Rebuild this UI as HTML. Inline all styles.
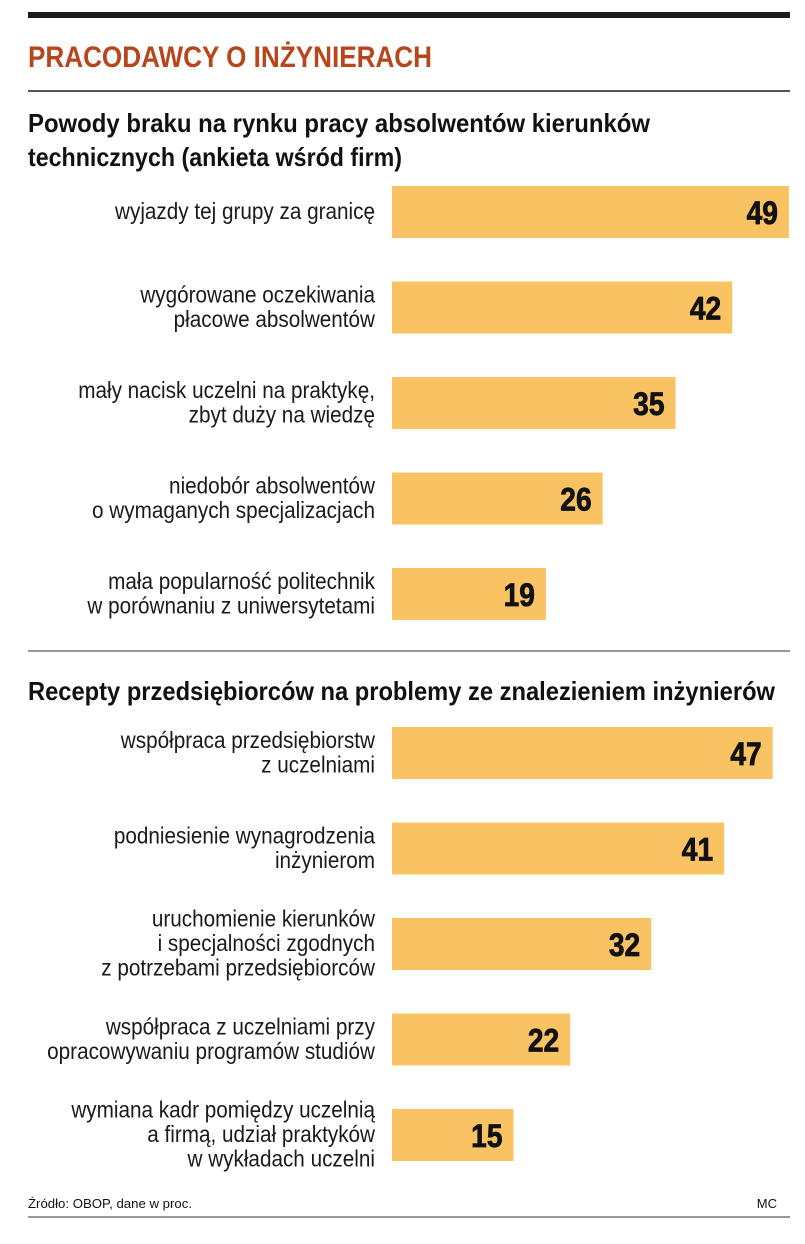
<!DOCTYPE html>
<html><head><meta charset="utf-8"><style>
html,body{margin:0;padding:0;background:#fff}
svg{display:block;font-family:"Liberation Sans",sans-serif}
</style></head><body>
<svg id="chart" width="805" height="1244">
<rect x="28" y="12" width="762" height="6" fill="#1a1a1a"/>
<text x="28" y="67" font-size="30" font-weight="bold" fill="#b8461c" textLength="404" lengthAdjust="spacingAndGlyphs">PRACODAWCY O INŻYNIERACH</text>
<rect x="28" y="90" width="762" height="2" fill="#555"/>
<text x="28" y="132" font-size="26" font-weight="bold" fill="#111" textLength="622" lengthAdjust="spacingAndGlyphs">Powody braku na rynku pracy absolwentów kierunków</text>
<text x="28" y="166" font-size="26" font-weight="bold" fill="#111" textLength="374" lengthAdjust="spacingAndGlyphs">technicznych (ankieta wśród firm)</text>
<rect x="28" y="650" width="762" height="2" fill="#999"/>
<text x="28" y="700" font-size="26" font-weight="bold" fill="#111" textLength="747" lengthAdjust="spacingAndGlyphs">Recepty przedsiębiorców na problemy ze znalezieniem inżynierów</text>
<g id="bars1"></g><g id="bars2"></g>
<text x="28" y="1208" font-size="13" fill="#111" textLength="164" lengthAdjust="spacingAndGlyphs">Źródło: OBOP, dane w proc.</text>
<text x="777" y="1208" font-size="13" fill="#111" text-anchor="end">MC</text>
<rect x="28" y="1216" width="762" height="2" fill="#999"/>
</svg>
<script>
const labels1 = [["wyjazdy tej grupy za granicę"],["wygórowane oczekiwania","płacowe absolwentów"],["mały nacisk uczelni na praktykę,","zbyt duży na wiedzę"],["niedobór absolwentów","o wymaganych specjalizacjach"],["mała popularność politechnik","w porównaniu z uniwersytetami"]];
const values1 = [49,42,35,26,19];
const labels2 = [["współpraca przedsiębiorstw","z uczelniami"],["podniesienie wynagrodzenia","inżynierom"],["uruchomienie kierunków","i specjalności zgodnych","z potrzebami przedsiębiorców"],["współpraca z uczelniami przy","opracowywaniu programów studiów"],["wymiana kadr pomiędzy uczelnią","a firmą, udział praktyków","w wykładach uczelni"]];
const values2 = [47,41,32,22,15];

const NS = "http://www.w3.org/2000/svg";
const x0 = 392, scale = 8.1, barH = 52, step = 95.5;
function xs(v){ return v * scale; }
function draw(gid, labels, values, top){
  const g = document.getElementById(gid);
  values.forEach((v,i)=>{
    const y = top + i*step;
    const r = document.createElementNS(NS,"rect");
    r.setAttribute("x",x0); r.setAttribute("y",y);
    r.setAttribute("width",xs(v)); r.setAttribute("height",barH);
    r.setAttribute("fill","#f9c262");
    
    
    g.appendChild(r);
    const t = document.createElementNS(NS,"text");
    t.setAttribute("transform",`translate(${x0+xs(v)-11},${y+barH/2+12}) scale(0.88,1)`);
    t.setAttribute("text-anchor","end");
    t.setAttribute("font-size","32"); t.setAttribute("font-weight","bold"); t.setAttribute("fill","#111");
    t.setAttribute("stroke","#111"); t.setAttribute("stroke-width","0.8");
    t.textContent = v;
    
    
    g.appendChild(t);
    const lines = labels[i], lh = 24.5;
    const cy = y + barH/2;
    lines.forEach((s,j)=>{
      const l = document.createElementNS(NS,"text");
      const by = cy - (lines.length-1)*lh/2 + j*lh + 7;
      l.setAttribute("transform",`translate(375,${by}) scale(0.9,1)`);
      l.setAttribute("text-anchor","end");
      l.setAttribute("font-size","23"); l.setAttribute("fill","#1a1a1a");
      l.textContent = s;
      
      
      g.appendChild(l);
    });
  });
}
draw("bars1", labels1, values1, 186);
draw("bars2", labels2, values2, 727);
</script>
</body></html>
